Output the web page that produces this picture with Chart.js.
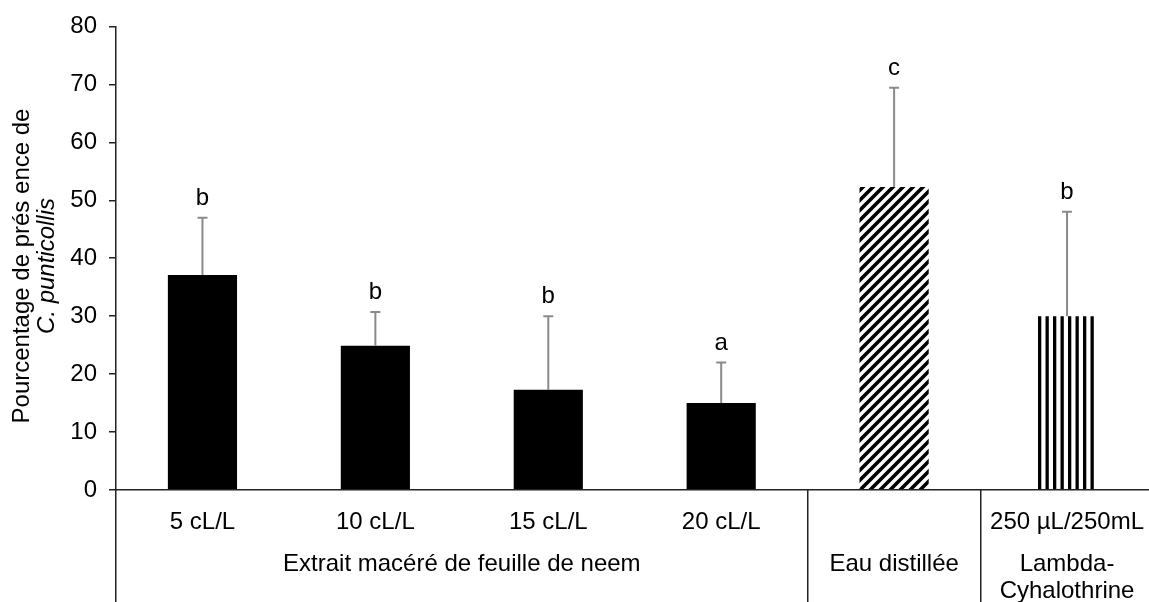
<!DOCTYPE html>
<html>
<head>
<meta charset="utf-8">
<title>Pourcentage de présence de C. punticollis</title>
<script src="https://cdn.jsdelivr.net/npm/chart.js@4"></script>
<style>
  html, body { margin: 0; padding: 0; background: #fff; overflow: hidden; }
  canvas { display: block; }
</style>
</head>
<body>
<canvas id="chart" width="1154" height="602"></canvas>
<script>
// Treatments (first row of the category axis)
const categories = ['5 cL/L', '10 cL/L', '15 cL/L', '20 cL/L', '', '250 µL/250mL'];
// Mean presence (%) and upper standard deviation per treatment
const meanPresence = [37.1, 24.9, 17.3, 15.0, 52.3, 30.0];
const upperError = [9.9, 5.8, 12.7, 7.0, 17.1, 18.0];
// Statistical grouping letters
const letters = ['b', 'b', 'b', 'a', 'c', 'b'];
// Treatment groups (second row of the category axis)
const groupNames = [['Extrait macéré de feuille de neem'], ['Eau distillée'], ['Lambda-', 'Cyhalothrine']];
const groupFirst = [0, 4, 5];
const groupLast = [3, 4, 5];
// Value axis
const yTicks = [0, 10, 20, 30, 40, 50, 60, 70, 80];
const yTitle = ['Pourcentage de prés ence de', 'C. punticollis'];

const FONT = '"Liberation Sans", Arial, sans-serif';
const TEXT_SIZE = 24;
Chart.defaults.font.family = FONT;
Chart.defaults.color = '#000';

const canvas = document.getElementById('chart');
const ctx = canvas.getContext('2d');

// Fill patterns: diagonal hatching (control) and vertical stripes (insecticide)
function diagonalHatch() {
  const t = document.createElement('canvas');
  t.width = 10; t.height = 10;
  const g = t.getContext('2d');
  g.fillStyle = '#fff'; g.fillRect(0, 0, 10, 10);
  g.strokeStyle = '#000'; g.lineWidth = 3.6;
  g.beginPath();
  g.moveTo(-5, 5); g.lineTo(5, -5);
  g.moveTo(0, 10); g.lineTo(10, 0);
  g.moveTo(5, 15); g.lineTo(15, 5);
  g.stroke();
  return ctx.createPattern(t, 'repeat');
}
function verticalStripes() {
  const t = document.createElement('canvas');
  t.width = 15; t.height = 4;
  const g = t.getContext('2d');
  g.fillStyle = '#fff'; g.fillRect(0, 0, 15, 4);
  g.fillStyle = '#000';
  g.fillRect(3, 0, 3.3, 4);
  g.fillRect(10.5, 0, 3.3, 4);
  return ctx.createPattern(t, 'repeat');
}
const hatch = diagonalHatch();
const stripes = verticalStripes();

const lastIndex = categories.length - 1;

// Error bars, letters, group separators, group names and the value-axis title
const annotations = {
  id: 'annotations',
  afterDatasetsDraw(chart) {
    const { ctx, scales: { x, y } } = chart;
    ctx.save();
    ctx.strokeStyle = '#8a8a8a';
    ctx.lineWidth = 2;
    ctx.fillStyle = '#000';
    ctx.font = TEXT_SIZE + 'px ' + FONT;
    ctx.textAlign = 'center';
    ctx.textBaseline = 'alphabetic';
    meanPresence.forEach((m, i) => {
      const cx = x.getPixelForValue(i);
      const y0 = y.getPixelForValue(m);
      const y1 = y.getPixelForValue(m + upperError[i]);
      ctx.beginPath();
      ctx.moveTo(cx, y0); ctx.lineTo(cx, y1);
      ctx.moveTo(cx - 5, y1); ctx.lineTo(cx + 5, y1);
      ctx.stroke();
      ctx.fillText(letters[i], cx, y1 - 13);
    });
    ctx.restore();
  },
  afterDraw(chart) {
    const { ctx, chartArea, scales: { x } } = chart;
    const step = x.width / categories.length;
    const bottom = chart.height;
    ctx.save();
    ctx.strokeStyle = '#222';
    ctx.lineWidth = 1.5;
    groupFirst.forEach((f) => {
      const bx = Math.round(x.getPixelForValue(f) - step / 2) - 0.25;
      ctx.beginPath();
      ctx.moveTo(bx, chartArea.bottom);
      ctx.lineTo(bx, bottom);
      ctx.stroke();
    });
    ctx.fillStyle = '#000';
    ctx.font = TEXT_SIZE + 'px ' + FONT;
    ctx.textAlign = 'center';
    ctx.textBaseline = 'middle';
    groupNames.forEach((lines, g) => {
      const cx = (x.getPixelForValue(groupFirst[g]) + x.getPixelForValue(groupLast[g])) / 2;
      lines.forEach((line, k) => ctx.fillText(line, cx, chartArea.bottom + 74 + k * 27));
    });
    // value-axis title, rotated
    ctx.translate(chartArea.left - 94, 266);
    ctx.rotate(-Math.PI / 2);
    ctx.font = TEXT_SIZE + 'px ' + FONT;
    ctx.fillText(yTitle[0], 0, 0);
    ctx.font = 'italic ' + TEXT_SIZE + 'px ' + FONT;
    ctx.fillText(yTitle[1], 0, 25);
    ctx.restore();
  }
};

new Chart(canvas, {
  type: 'bar',
  data: {
    labels: categories,
    datasets: [
      {
        label: 'Traitements',
        data: meanPresence.map((v, i) => (i === lastIndex ? null : v)),
        backgroundColor: (c) => (c.dataIndex === 4 ? hatch : '#000'),
        borderWidth: 0,
        barPercentage: 0.4,
        categoryPercentage: 1,
        grouped: false
      },
      {
        label: 'Lambda-Cyhalothrine',
        data: meanPresence.map((v, i) => (i === lastIndex ? v : null)),
        backgroundColor: stripes,
        borderWidth: 0,
        barPercentage: 0.346,
        categoryPercentage: 1,
        grouped: false
      }
    ]
  },
  options: {
    responsive: false,
    animation: false,
    devicePixelRatio: 1,
    layout: { padding: { top: 25, left: 0, right: 0, bottom: 0 } },
    plugins: { legend: { display: false }, tooltip: { enabled: false } },
    scales: {
      x: {
        afterFit(s) { s.height = 112; },
        grid: { display: false },
        border: { display: true, color: '#222', width: 1.5, z: 1 },
        ticks: { padding: 10, font: { size: TEXT_SIZE }, color: '#000', autoSkip: false, maxRotation: 0 }
      },
      y: {
        min: 0,
        max: 80,
        afterFit(s) { s.width = 116; },
        afterBuildTicks(s) { s.ticks = yTicks.map((v) => ({ value: v })); },
        grid: { drawOnChartArea: false, drawTicks: true, tickLength: 7, color: '#222', lineWidth: 1.5 },
        border: { display: true, color: '#222', width: 1.5, z: 1 },
        ticks: { padding: 12, font: { size: TEXT_SIZE }, color: '#000' }
      }
    }
  },
  plugins: [annotations]
});
</script>
</body>
</html>
